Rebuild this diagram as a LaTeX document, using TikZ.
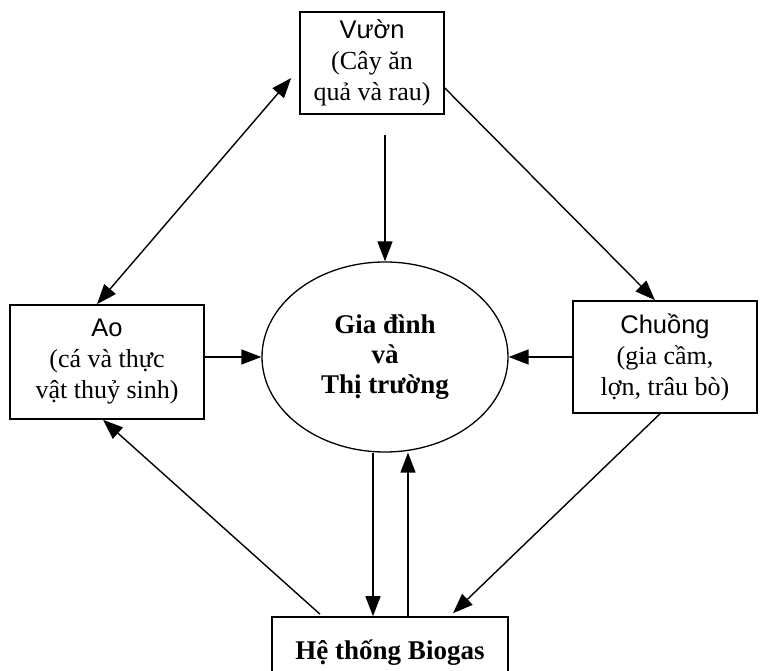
\documentclass[tikz,border=0pt]{standalone}
\usepackage{fontspec}
\setmainfont{Liberation Serif}
\newfontfamily\arialfont{Liberation Sans}
\usetikzlibrary{arrows.meta,shapes.geometric,calc}

\begin{document}
\begin{tikzpicture}[
  x=1pt,y=1pt,
  font=\fontsize{26}{31}\selectfont,
  box/.style={draw,line width=1.6pt,align=center,inner sep=0pt},
  hub/.style={draw,ellipse,line width=1.3pt,align=center,minimum width=246pt,minimum height=190pt,inner sep=0pt,font=\fontsize{27}{30}\selectfont\bfseries},
  a/.style={-{Triangle[length=20pt,width=15pt]},line width=1.4pt},
  aa/.style={{Triangle[length=20pt,width=15pt]}-{Triangle[length=20pt,width=15pt]},line width=1.4pt}]
\useasboundingbox (0,0) rectangle (761,671);
\node[box,minimum width=144pt,minimum height=102pt] (vuon) at (372,608) {{\arialfont\fontsize{25.5}{31}\selectfont Vườn}\\(Cây ăn\\quả và rau)};
\node[box,minimum width=194pt,minimum height=114pt] (ao) at (107,309) {{\arialfont\fontsize{25.5}{31}\selectfont Ao}\\(cá và thực\\vật thuỷ sinh)};
\node[box,minimum width=184pt,minimum height=112pt] (chuong) at (665,314) {{\arialfont\fontsize{25.5}{31}\selectfont Chuồng}\\(gia cầm,\\lợn, trâu bò)};
\node[hub] (gd) at (385,314) {Gia đình\\và\\Thị trường};
\node[box,minimum width=236pt,minimum height=76pt,font=\fontsize{27}{30}\selectfont\bfseries] (bio) at (390,16) {\raisebox{11pt}{Hệ thống Biogas}};
% loops between the units
\draw[aa] ([xshift=-10pt]ao.north) -- ([xshift=-8pt,yshift=-15pt]vuon.west);
\draw[a] ([yshift=-25pt]vuon.east) -- ([xshift=-10pt]chuong.north);
\draw[a,shorten <=20pt] (gd.north |- vuon.south) -- (gd.north);
\draw[a] (ao.east |- gd.west) -- (gd.west);
\draw[a] (chuong.west |- gd.east) -- (gd.east);
\draw[a] ([xshift=-12pt]gd.south) -- ([xshift=-12pt]gd.south |- bio.north);
\draw[a] ([xshift=23pt]gd.south |- bio.north) -- ([xshift=23pt]gd.south);
\draw[a] ([xshift=-5pt]chuong.south) -- ([xshift=63pt,yshift=3pt]bio.north);
\draw[a] ([xshift=-70pt,yshift=2pt]bio.north) -- ([xshift=-4pt]ao.south);
\end{tikzpicture}
\end{document}
